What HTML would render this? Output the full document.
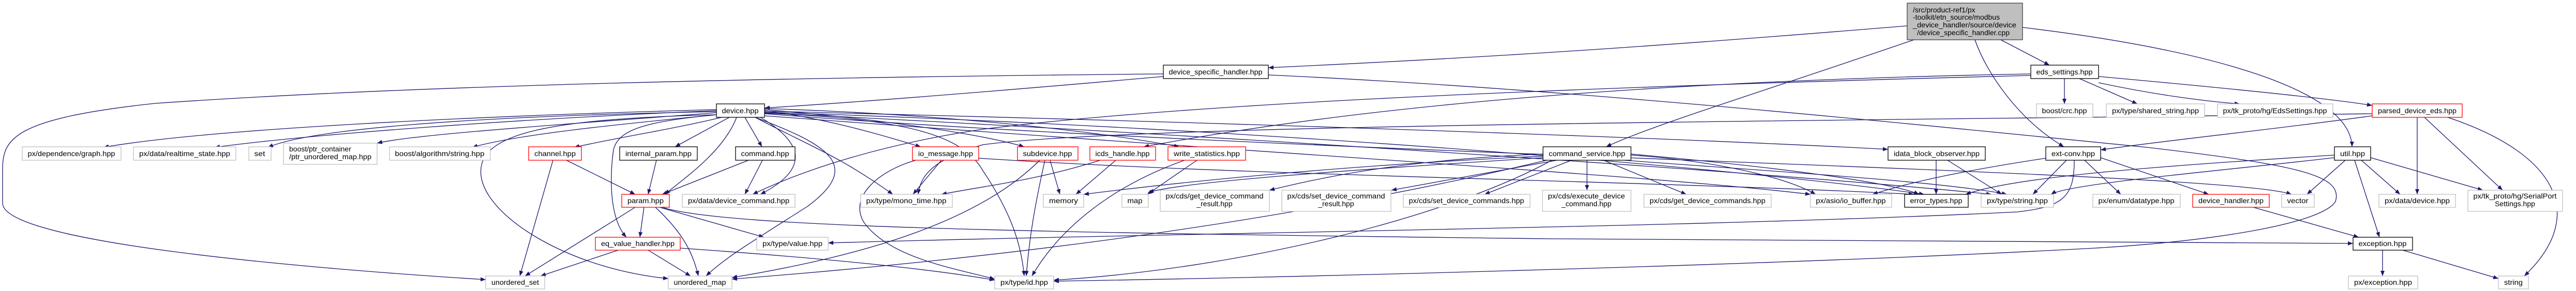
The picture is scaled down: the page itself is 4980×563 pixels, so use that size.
<!DOCTYPE html>
<html><head><meta charset="utf-8"><style>
html,body{margin:0;padding:0;background:#fff;}
svg{display:block;}
text{font-family:"Liberation Sans",sans-serif;font-size:14px;fill:#000;}
.e{fill:none;stroke:#191970;stroke-width:1.3;marker-end:url(#a);}
.b{fill:#fff;stroke:#000;stroke-width:1.3;}
.r{fill:#fff;stroke:#ff0000;stroke-width:1.3;}
.g{fill:#fff;stroke:#bfbfbf;stroke-width:1.3;}
</style></head><body>
<svg width="4980" height="563" viewBox="0 0 4980 563" xmlns="http://www.w3.org/2000/svg">
<defs><marker id="a" markerUnits="userSpaceOnUse" markerWidth="11" markerHeight="9" refX="10" refY="4" orient="auto"><path d="M0,0 L10,4 L0,8 z" fill="#191970"/></marker></defs>
<!-- edges -->
<path class="e" d="M3687,50 C3200,90 2900,110 2452,131"/>
<path class="e" d="M3868,77 L3962,126"/>
<path class="e" d="M3818,77 C3840,140 3900,230 3990,284"/>
<path class="e" d="M3910,53 C4300,100 4545,180 4547,284"/>
<path class="e" d="M3700,77 C3400,180 3200,240 3105,284"/>
<path class="e" d="M2249,148 C2000,170 1700,195 1478,209"/>
<path class="e" d="M2249,143 C1500,150 800,165 300,200 C20,230 5,270 5,330 L5,393 C5,470 600,520 939,541"/>
<path class="e" d="M2452,145 C3000,170 3600,230 4150,285 C4450,320 4530,340 4515,390 C4490,430 4300,465 4050,480 C3500,510 2600,535 2037,544"/>
<path class="e" d="M3991,152 L3991,201"/>
<path class="e" d="M4020,152 L4132,201"/>
<path class="e" d="M4057,160 C4150,180 4250,195 4330,201"/>
<path class="e" d="M4057,148 C4300,170 4500,190 4586,204"/>
<path class="e" d="M3926,143 C3000,160 2500,230 2211,284"/>
<path class="e" d="M3926,146 C3000,170 2300,200 1900,250 C1700,280 1550,330 1455,376"/>
<path class="e" d="M4586,224 C4400,250 4200,270 4061,290"/>
<path class="e" d="M4673,227 L4673,376"/>
<path class="e" d="M4687,227 L4838,368"/>
<path class="e" d="M4732,227 C4950,300 5000,420 4880,534"/>
<path class="e" d="M4586,220 C3500,235 2200,240 1900,280 C1800,310 1780,340 1775,376"/>
<path class="e" d="M1385,212 C900,225 400,250 200,285"/>
<path class="e" d="M1385,214 C1000,230 600,260 415,285"/>
<path class="e" d="M1385,216 C900,225 600,250 518,285"/>
<path class="e" d="M1385,218 C1100,240 800,260 729,277"/>
<path class="e" d="M1385,222 C1200,240 1000,260 913,285"/>
<path class="e" d="M1395,227 C1300,250 1200,265 1110,285"/>
<path class="e" d="M1410,227 L1305,284"/>
<path class="e" d="M1440,227 L1473,284"/>
<path class="e" d="M1424,227 C1400,290 1330,340 1285,376"/>
<path class="e" d="M1470,227 C1560,280 1560,330 1470,376"/>
<path class="e" d="M1385,222 C1250,235 1195,250 1186,290 C1180,330 1175,420 1211,459"/>
<path class="e" d="M1385,222 C1050,230 920,260 930,340 C940,420 1100,520 1292,539"/>
<path class="e" d="M1460,227 C1600,280 1670,320 1560,400 C1450,470 1400,500 1365,534"/>
<path class="e" d="M1478,214 C1600,230 1700,260 1780,284"/>
<path class="e" d="M1478,212 C1700,230 1900,260 1980,284"/>
<path class="e" d="M1478,210 C1800,220 2100,250 2280,284"/>
<path class="e" d="M1460,227 C1560,280 1620,300 1726,376"/>
<path class="e" d="M1478,219 C1750,230 1860,260 1900,330 C1960,420 1975,480 1980,534"/>
<path class="e" d="M1478,215 C2500,240 3300,270 3650,289"/>
<path class="e" d="M1478,217 C2500,250 3400,330 3720,376"/>
<path class="e" d="M1478,218 C2500,270 3500,340 3850,376"/>
<path class="e" d="M1478,220 C2500,300 4300,330 4430,376"/>
<path class="e" d="M1478,224 C2500,300 3200,340 3500,376"/>
<path class="e" d="M2983,298 C2700,310 2550,345 2454,368"/>
<path class="e" d="M3010,310 L2690,368"/>
<path class="e" d="M3038,310 L2870,376"/>
<path class="e" d="M3068,310 L3068,368"/>
<path class="e" d="M3100,310 L3260,376"/>
<path class="e" d="M2983,302 C2600,320 2300,350 2095,376"/>
<path class="e" d="M2983,305 C2600,330 2300,350 2220,372"/>
<path class="e" d="M3153,300 C3300,310 3450,340 3510,376"/>
<path class="e" d="M3153,298 C3400,320 3650,350 3710,376"/>
<path class="e" d="M3140,310 C3400,330 3750,350 3880,376"/>
<path class="e" d="M3000,310 C2800,420 2400,520 2037,542"/>
<path class="e" d="M2990,310 C2400,450 1800,510 1415,540"/>
<path class="e" d="M3955,306 C3800,330 3700,350 3620,376"/>
<path class="e" d="M3995,310 L3930,376"/>
<path class="e" d="M4030,310 L4100,376"/>
<path class="e" d="M4061,305 L4270,376"/>
<path class="e" d="M4010,310 C4010,380 3990,400 3900,410 C3300,440 2300,450 1601,470"/>
<path class="e" d="M3743,310 L3743,376"/>
<path class="e" d="M3765,310 L3870,376"/>
<path class="e" d="M4534,310 L4460,376"/>
<path class="e" d="M4565,310 L4640,376"/>
<path class="e" d="M4583,305 L4800,368"/>
<path class="e" d="M4552,310 L4600,459"/>
<path class="e" d="M4513,300 C4200,320 3900,340 3800,376"/>
<path class="e" d="M4513,305 C4300,330 4000,355 3965,376"/>
<path class="e" d="M1820,310 L1765,376"/>
<path class="e" d="M1892,306 C2400,340 3200,350 3700,376"/>
<path class="e" d="M1770,310 C1700,330 1640,380 1670,430 C1720,500 1850,520 1923,540"/>
<path class="e" d="M2030,310 L2049,376"/>
<path class="e" d="M2020,310 C2000,400 1990,460 1984,534"/>
<path class="e" d="M2010,310 C1900,420 1700,490 1415,537"/>
<path class="e" d="M2157,310 L2080,376"/>
<path class="e" d="M2127,310 C2000,350 1900,360 1820,376"/>
<path class="e" d="M2314,310 L2218,376"/>
<path class="e" d="M2290,310 C2150,360 2050,440 1995,534"/>
<path class="e" d="M1228,401 L1015,534"/>
<path class="e" d="M1245,401 L1237,459"/>
<path class="e" d="M1267,401 C1320,450 1340,490 1350,534"/>
<path class="e" d="M1275,401 L1477,459"/>
<path class="e" d="M1280,401 C1400,440 2000,450 3000,462 L4549,471"/>
<path class="e" d="M1095,310 L1228,376"/>
<path class="e" d="M1069,310 L1005,534"/>
<path class="e" d="M1269,310 L1253,376"/>
<path class="e" d="M1447,310 L1280,376"/>
<path class="e" d="M1474,310 L1440,376"/>
<path class="e" d="M1195,484 L1045,534"/>
<path class="e" d="M1253,484 L1335,534"/>
<path class="e" d="M1315,480 C1600,500 1800,520 1923,542"/>
<path class="e" d="M4606,484 L4606,534"/>
<path class="e" d="M4645,484 L4830,539"/>
<path class="e" d="M4356,401 L4560,459"/>
<!-- nodes -->
<rect x="3687" y="6" width="223" height="71" fill="#bfbfbf" stroke="#404040" stroke-width="1.3"/>
<text x="3698" y="24">/src/product-ref1/px</text>
<text x="3698" y="38">-toolkit/etn_source/modbus</text>
<text x="3698" y="53" textLength="200" lengthAdjust="spacingAndGlyphs">_device_handler/source/device</text>
<text x="3706" y="68">/device_specific_handler.cpp</text>
<g text-anchor="middle">
<rect class="b" x="2249" y="126" width="203" height="26"/><text x="2350" y="144" textLength="181" lengthAdjust="spacingAndGlyphs">device_specific_handler.hpp</text>
<rect class="b" x="3926" y="126" width="131" height="26"/><text x="3991" y="144" textLength="109" lengthAdjust="spacingAndGlyphs">eds_settings.hpp</text>
<rect class="b" x="1385" y="201" width="93" height="26"/><text x="1431" y="219" textLength="71" lengthAdjust="spacingAndGlyphs">device.hpp</text>
<rect class="g" x="3937" y="201" width="109" height="26"/><text x="3991" y="219" textLength="87" lengthAdjust="spacingAndGlyphs">boost/crc.hpp</text>
<rect class="g" x="4072" y="201" width="190" height="26"/><text x="4167" y="219" textLength="168" lengthAdjust="spacingAndGlyphs">px/type/shared_string.hpp</text>
<rect class="g" x="4287" y="201" width="223" height="26"/><text x="4398" y="219" textLength="201" lengthAdjust="spacingAndGlyphs">px/tk_proto/hg/EdsSettings.hpp</text>
<rect class="r" x="4586" y="201" width="174" height="26"/><text x="4673" y="219" textLength="152" lengthAdjust="spacingAndGlyphs">parsed_device_eds.hpp</text>

<rect class="g" x="43" y="284" width="191" height="26"/><text x="138" y="302" textLength="169" lengthAdjust="spacingAndGlyphs">px/dependence/graph.hpp</text>
<rect class="g" x="258" y="284" width="198" height="26"/><text x="357" y="302" textLength="176" lengthAdjust="spacingAndGlyphs">px/data/realtime_state.hpp</text>
<rect class="g" x="481" y="284" width="43" height="26"/><text x="502" y="302" textLength="21" lengthAdjust="spacingAndGlyphs">set</text>
<rect class="g" x="548" y="277" width="181" height="41"/>
<text x="559" y="293" text-anchor="start">boost/ptr_container</text>
<text x="559" y="308" text-anchor="start" textLength="159" lengthAdjust="spacingAndGlyphs">/ptr_unordered_map.hpp</text>
<rect class="g" x="753" y="284" width="195" height="26"/><text x="850" y="302" textLength="173" lengthAdjust="spacingAndGlyphs">boost/algorithm/string.hpp</text>
<rect class="r" x="1022" y="284" width="102" height="26"/><text x="1073" y="302" textLength="80" lengthAdjust="spacingAndGlyphs">channel.hpp</text>
<rect class="b" x="1198" y="284" width="150" height="26"/><text x="1273" y="302" textLength="128" lengthAdjust="spacingAndGlyphs">internal_param.hpp</text>
<rect class="b" x="1422" y="284" width="115" height="26"/><text x="1479" y="302" textLength="93" lengthAdjust="spacingAndGlyphs">command.hpp</text>
<rect class="r" x="1764" y="284" width="128" height="26"/><text x="1828" y="302" textLength="106" lengthAdjust="spacingAndGlyphs">io_message.hpp</text>
<rect class="r" x="1967" y="284" width="117" height="26"/><text x="2025" y="302" textLength="95" lengthAdjust="spacingAndGlyphs">subdevice.hpp</text>
<rect class="r" x="2107" y="284" width="127" height="26"/><text x="2170" y="302" textLength="105" lengthAdjust="spacingAndGlyphs">icds_handle.hpp</text>
<rect class="r" x="2258" y="284" width="150" height="26"/><text x="2333" y="302" textLength="128" lengthAdjust="spacingAndGlyphs">write_statistics.hpp</text>
<rect class="b" x="2983" y="284" width="170" height="26"/><text x="3068" y="302" textLength="148" lengthAdjust="spacingAndGlyphs">command_service.hpp</text>
<rect class="b" x="3650" y="284" width="188" height="26"/><text x="3744" y="302" textLength="166" lengthAdjust="spacingAndGlyphs">idata_block_observer.hpp</text>
<rect class="b" x="3955" y="284" width="106" height="26"/><text x="4008" y="302" textLength="84" lengthAdjust="spacingAndGlyphs">ext-conv.hpp</text>
<rect class="b" x="4513" y="284" width="70" height="26"/><text x="4548" y="302" textLength="48" lengthAdjust="spacingAndGlyphs">util.hpp</text>

<rect class="r" x="1202" y="376" width="92" height="25"/><text x="1248" y="393" textLength="70" lengthAdjust="spacingAndGlyphs">param.hpp</text>
<rect class="g" x="1319" y="376" width="218" height="25"/><text x="1428" y="393" textLength="196" lengthAdjust="spacingAndGlyphs">px/data/device_command.hpp</text>
<rect class="g" x="1664" y="376" width="177" height="25"/><text x="1752" y="393" textLength="155" lengthAdjust="spacingAndGlyphs">px/type/mono_time.hpp</text>
<rect class="g" x="2017" y="376" width="78" height="25"/><text x="2056" y="393" textLength="56" lengthAdjust="spacingAndGlyphs">memory</text>
<rect class="g" x="2169" y="376" width="51" height="25"/><text x="2194" y="393" textLength="29" lengthAdjust="spacingAndGlyphs">map</text>
<rect class="g" x="2243" y="368" width="211" height="41"/>
<text x="2348" y="384" textLength="189" lengthAdjust="spacingAndGlyphs">px/cds/get_device_command</text><text x="2348" y="399">_result.hpp</text>
<rect class="g" x="2478" y="368" width="211" height="41"/>
<text x="2583" y="384" textLength="189" lengthAdjust="spacingAndGlyphs">px/cds/set_device_command</text><text x="2583" y="399">_result.hpp</text>
<rect class="g" x="2713" y="376" width="245" height="25"/><text x="2835" y="393" textLength="223" lengthAdjust="spacingAndGlyphs">px/cds/set_device_commands.hpp</text>
<rect class="g" x="2982" y="368" width="171" height="41"/>
<text x="3067" y="384" textLength="149" lengthAdjust="spacingAndGlyphs">px/cds/execute_device</text><text x="3067" y="399">_command.hpp</text>
<rect class="g" x="3178" y="376" width="246" height="25"/><text x="3301" y="393" textLength="224" lengthAdjust="spacingAndGlyphs">px/cds/get_device_commands.hpp</text>
<rect class="g" x="3500" y="376" width="157" height="25"/><text x="3578" y="393" textLength="135" lengthAdjust="spacingAndGlyphs">px/asio/io_buffer.hpp</text>
<rect class="b" x="3682" y="376" width="123" height="25"/><text x="3743" y="393" textLength="101" lengthAdjust="spacingAndGlyphs">error_types.hpp</text>
<rect class="g" x="3830" y="376" width="140" height="25"/><text x="3900" y="393" textLength="118" lengthAdjust="spacingAndGlyphs">px/type/string.hpp</text>
<rect class="g" x="4046" y="376" width="169" height="25"/><text x="4130" y="393" textLength="147" lengthAdjust="spacingAndGlyphs">px/enum/datatype.hpp</text>
<rect class="r" x="4239" y="376" width="148" height="25"/><text x="4313" y="393" textLength="126" lengthAdjust="spacingAndGlyphs">device_handler.hpp</text>
<rect class="g" x="4411" y="376" width="63" height="25"/><text x="4442" y="393" textLength="41" lengthAdjust="spacingAndGlyphs">vector</text>
<rect class="g" x="4599" y="376" width="148" height="25"/><text x="4673" y="393" textLength="126" lengthAdjust="spacingAndGlyphs">px/data/device.hpp</text>
<rect class="g" x="4771" y="368" width="183" height="41"/>
<text x="4862" y="384" textLength="161" lengthAdjust="spacingAndGlyphs">px/tk_proto/hg/SerialPort</text><text x="4862" y="399">Settings.hpp</text>

<rect class="r" x="1151" y="459" width="164" height="25"/><text x="1233" y="476" textLength="142" lengthAdjust="spacingAndGlyphs">eq_value_handler.hpp</text>
<rect class="g" x="1463" y="459" width="138" height="25"/><text x="1532" y="476" textLength="116" lengthAdjust="spacingAndGlyphs">px/type/value.hpp</text>
<rect class="b" x="4549" y="459" width="115" height="25"/><text x="4606" y="476" textLength="93" lengthAdjust="spacingAndGlyphs">exception.hpp</text>

<rect class="g" x="939" y="534" width="114" height="25"/><text x="996" y="551" textLength="92" lengthAdjust="spacingAndGlyphs">unordered_set</text>
<rect class="g" x="1292" y="534" width="123" height="25"/><text x="1353" y="551" textLength="101" lengthAdjust="spacingAndGlyphs">unordered_map</text>
<rect class="g" x="1923" y="534" width="114" height="25"/><text x="1980" y="551" textLength="92" lengthAdjust="spacingAndGlyphs">px/type/id.hpp</text>
<rect class="g" x="4540" y="534" width="134" height="25"/><text x="4607" y="551" textLength="112" lengthAdjust="spacingAndGlyphs">px/exception.hpp</text>
<rect class="g" x="4830" y="534" width="58" height="25"/><text x="4859" y="551" textLength="36" lengthAdjust="spacingAndGlyphs">string</text>
</g>
</svg>
</body></html>
